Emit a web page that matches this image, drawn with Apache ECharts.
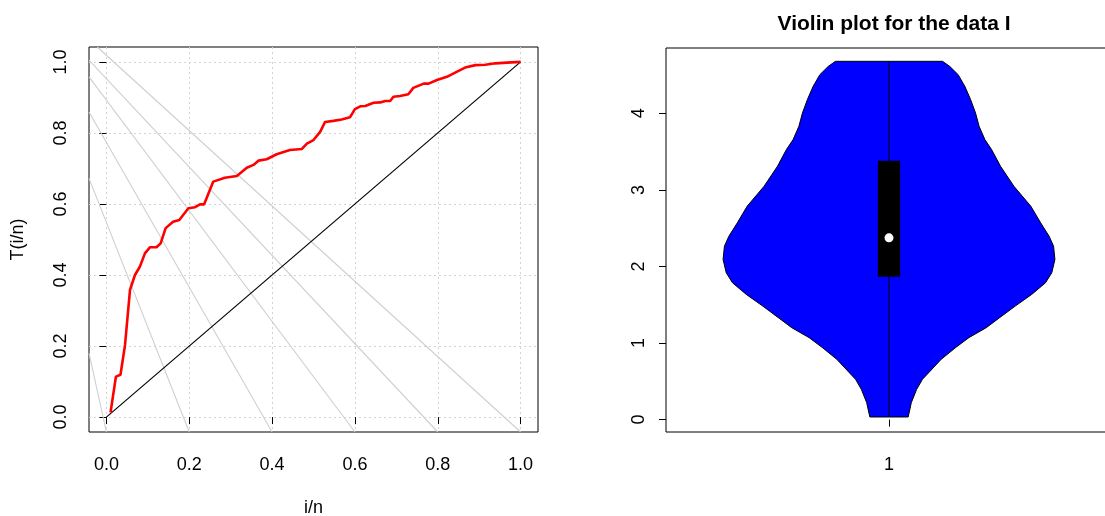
<!DOCTYPE html>
<html>
<head>
<meta charset="utf-8">
<title>TTT plot and violin plot</title>
<script src="https://cdn.jsdelivr.net/npm/echarts@6.0.0/dist/echarts.min.js"></script>
<style>
  html, body { margin: 0; padding: 0; background: #fff; }
  #chart { width: 1105px; height: 516px; }
</style>
</head>
<body>
<div id="chart"></div>
<script>
// --- left panel: scaled TTT curve ---
const tttX = [0.010, 0.023, 0.034, 0.045, 0.057, 0.069, 0.081, 0.093, 0.105, 0.121,
  0.131, 0.143, 0.161, 0.176, 0.198, 0.214, 0.226, 0.236, 0.258, 0.286,
  0.315, 0.339, 0.355, 0.367, 0.387, 0.411, 0.443, 0.472, 0.484, 0.500,
  0.516, 0.528, 0.548, 0.568, 0.588, 0.600, 0.613, 0.625, 0.645, 0.661,
  0.673, 0.685, 0.693, 0.709, 0.729, 0.741, 0.766, 0.778, 0.798, 0.822,
  0.842, 0.866, 0.891, 0.915, 0.939, 0.967, 1.000];
const tttY = [0.013, 0.114, 0.119, 0.203, 0.358, 0.400, 0.424, 0.461, 0.478, 0.478,
  0.489, 0.532, 0.550, 0.555, 0.588, 0.591, 0.599, 0.599, 0.663, 0.674,
  0.679, 0.702, 0.710, 0.722, 0.726, 0.740, 0.752, 0.755, 0.770, 0.780,
  0.803, 0.831, 0.834, 0.838, 0.844, 0.867, 0.875, 0.876, 0.885, 0.886,
  0.890, 0.890, 0.902, 0.904, 0.909, 0.927, 0.939, 0.939, 0.949, 0.958,
  0.970, 0.984, 0.991, 0.992, 0.996, 0.998, 1.000];

// reference diagonal
const diagX = [0, 1];
const diagY = [0, 1];

// light grey guide lines: start point on the frame, end point on the bottom edge
const guideStartX = [-0.042, -0.042, -0.042, -0.042, -0.042, -0.022];
const guideStartY = [0.180, 0.672, 0.859, 0.958, 1.005, 1.042];
const guideEndX = [0.0, 0.2, 0.4, 0.6, 0.8, 1.0];
const guideEndY = [-0.042, -0.042, -0.042, -0.042, -0.042, -0.042];

const tttTicks = [0, 0.2, 0.4, 0.6, 0.8, 1.0];

// --- right panel: violin outline (value, half width) ---
const violinY = [0.034, 0.221, 0.395, 0.526, 0.613, 0.787, 0.939, 1.070, 1.200, 1.331,
  1.482, 1.635, 1.787, 1.918, 2.091, 2.265, 2.395, 2.570, 2.787, 3.048,
  3.309, 3.527, 3.657, 3.831, 4.005, 4.179, 4.353, 4.505, 4.614, 4.679];
const violinHalfWidth = [0.043, 0.050, 0.062, 0.075, 0.089, 0.117, 0.149, 0.179, 0.218, 0.248,
  0.283, 0.320, 0.351, 0.365, 0.372, 0.369, 0.359, 0.340, 0.318, 0.280,
  0.250, 0.230, 0.215, 0.202, 0.194, 0.183, 0.170, 0.155, 0.136, 0.120];
const violinCenter = 1;
const whiskerLow = 0.034;
const whiskerHigh = 4.679;
const boxQ1 = 1.866;
const boxQ3 = 3.379;
const boxMedian = 2.374;
const violinTicksY = [0, 1, 2, 3, 4];
const violinTicksX = [1];

const boxHalfWidth = 0.025;
const font = "'Liberation Sans', Arial, sans-serif";

const chart = echarts.init(document.getElementById('chart'), null, { renderer: 'canvas' });

const guideSeries = guideStartX.map((sx, i) => ({
  type: 'line',
  xAxisIndex: 0,
  yAxisIndex: 0,
  data: [[sx, guideStartY[i]], [guideEndX[i], guideEndY[i]]],
  showSymbol: false,
  silent: true,
  lineStyle: { color: '#cfcfcf', width: 1.1 },
  z: 2
}));

const tickLabel = {
  fontSize: 18,
  color: '#000',
  fontFamily: font
};

const option = {
  animation: false,
  backgroundColor: '#fff',
  title: {
    text: 'Violin plot for the data I',
    left: 889,
    top: 9,
    textAlign: 'center',
    textStyle: { fontSize: 21, fontWeight: 'bold', color: '#000', fontFamily: font }
  },
  grid: [
    { left: 89, top: 47, width: 449, height: 385, show: true, borderColor: '#000', borderWidth: 1,
      backgroundColor: 'transparent', outerBoundsMode: 'none' },
    { left: 666, top: 48, width: 446, height: 384, show: true, borderColor: '#000', borderWidth: 1,
      backgroundColor: 'transparent', outerBoundsMode: 'none' }
  ],
  xAxis: [
    {
      gridIndex: 0, type: 'value', min: -0.042, max: 1.042,
      axisLine: { show: false },
      axisTick: { show: true, customValues: tttTicks, length: 7, lineStyle: { color: '#000' } },
      axisLabel: Object.assign({ customValues: tttTicks, margin: 24, formatter: v => v.toFixed(1) }, tickLabel),
      splitLine: { show: true, lineStyle: { type: [2, 3], color: '#d3d3d3', width: 1 } },
      name: 'i/n', nameLocation: 'middle', nameGap: 67,
      nameTextStyle: tickLabel
    },
    {
      gridIndex: 1, type: 'value', min: 0.5, max: 1.5,
      axisLine: { show: false },
      axisTick: { show: true, customValues: violinTicksX, length: 7, lineStyle: { color: '#000' } },
      axisLabel: Object.assign({ customValues: violinTicksX, margin: 24, formatter: v => String(v) }, tickLabel),
      splitLine: { show: false }
    }
  ],
  yAxis: [
    {
      gridIndex: 0, type: 'value', min: -0.042, max: 1.042,
      axisLine: { show: false },
      axisTick: { show: true, customValues: tttTicks, length: 7, lineStyle: { color: '#000' } },
      axisLabel: Object.assign({ customValues: tttTicks, rotate: 90, margin: 19, formatter: v => v.toFixed(1) }, tickLabel),
      splitLine: { show: true, lineStyle: { type: [2, 3], color: '#d3d3d3', width: 1 } },
      name: 'T(i/n)', nameLocation: 'middle', nameGap: 62, nameRotate: 90,
      nameTextStyle: tickLabel
    },
    {
      gridIndex: 1, type: 'value', min: -0.162, max: 4.853,
      axisLine: { show: false },
      axisTick: { show: true, customValues: violinTicksY, length: 7, lineStyle: { color: '#000' } },
      axisLabel: Object.assign({ customValues: violinTicksY, rotate: 90, margin: 18, formatter: v => String(v) }, tickLabel),
      splitLine: { show: false }
    }
  ],
  series: guideSeries.concat([
    {
      type: 'line', xAxisIndex: 0, yAxisIndex: 0,
      data: diagX.map((x, i) => [x, diagY[i]]),
      showSymbol: false, silent: true,
      lineStyle: { color: '#000', width: 1.2 },
      z: 3
    },
    {
      type: 'line', xAxisIndex: 0, yAxisIndex: 0,
      data: tttX.map((x, i) => [x, tttY[i]]),
      showSymbol: false, silent: true,
      lineStyle: { color: '#ff0000', width: 2.6 },
      z: 4
    },
    {
      // violin body
      type: 'custom', xAxisIndex: 1, yAxisIndex: 1,
      data: [[violinCenter, boxMedian]],
      silent: true,
      z: 2,
      renderItem: function (params, api) {
        const right = violinY.map((y, i) => api.coord([violinCenter + violinHalfWidth[i], y]));
        const left = violinY.map((y, i) => api.coord([violinCenter - violinHalfWidth[i], y])).reverse();
        return {
          type: 'polygon',
          shape: { points: right.concat(left) },
          style: { fill: '#0000ff', stroke: '#000', lineWidth: 1 }
        };
      }
    },
    {
      // whisker line through the middle
      type: 'line', xAxisIndex: 1, yAxisIndex: 1,
      data: [[violinCenter, whiskerLow], [violinCenter, whiskerHigh]],
      showSymbol: false, silent: true,
      lineStyle: { color: '#000', width: 1 },
      z: 3
    },
    {
      // interquartile box
      type: 'custom', xAxisIndex: 1, yAxisIndex: 1,
      data: [[violinCenter, boxQ1, boxQ3]],
      silent: true,
      z: 4,
      renderItem: function (params, api) {
        const tl = api.coord([api.value(0) - boxHalfWidth, api.value(2)]);
        const br = api.coord([api.value(0) + boxHalfWidth, api.value(1)]);
        return {
          type: 'rect',
          shape: { x: tl[0], y: tl[1], width: br[0] - tl[0], height: br[1] - tl[1] },
          style: { fill: '#000' }
        };
      }
    },
    {
      // median
      type: 'scatter', xAxisIndex: 1, yAxisIndex: 1,
      data: [[violinCenter, boxMedian]],
      symbol: 'circle', symbolSize: 9, silent: true,
      itemStyle: { color: '#fff', borderWidth: 0, opacity: 1 },
      z: 5
    }
  ])
};

chart.setOption(option);
</script>
</body>
</html>
